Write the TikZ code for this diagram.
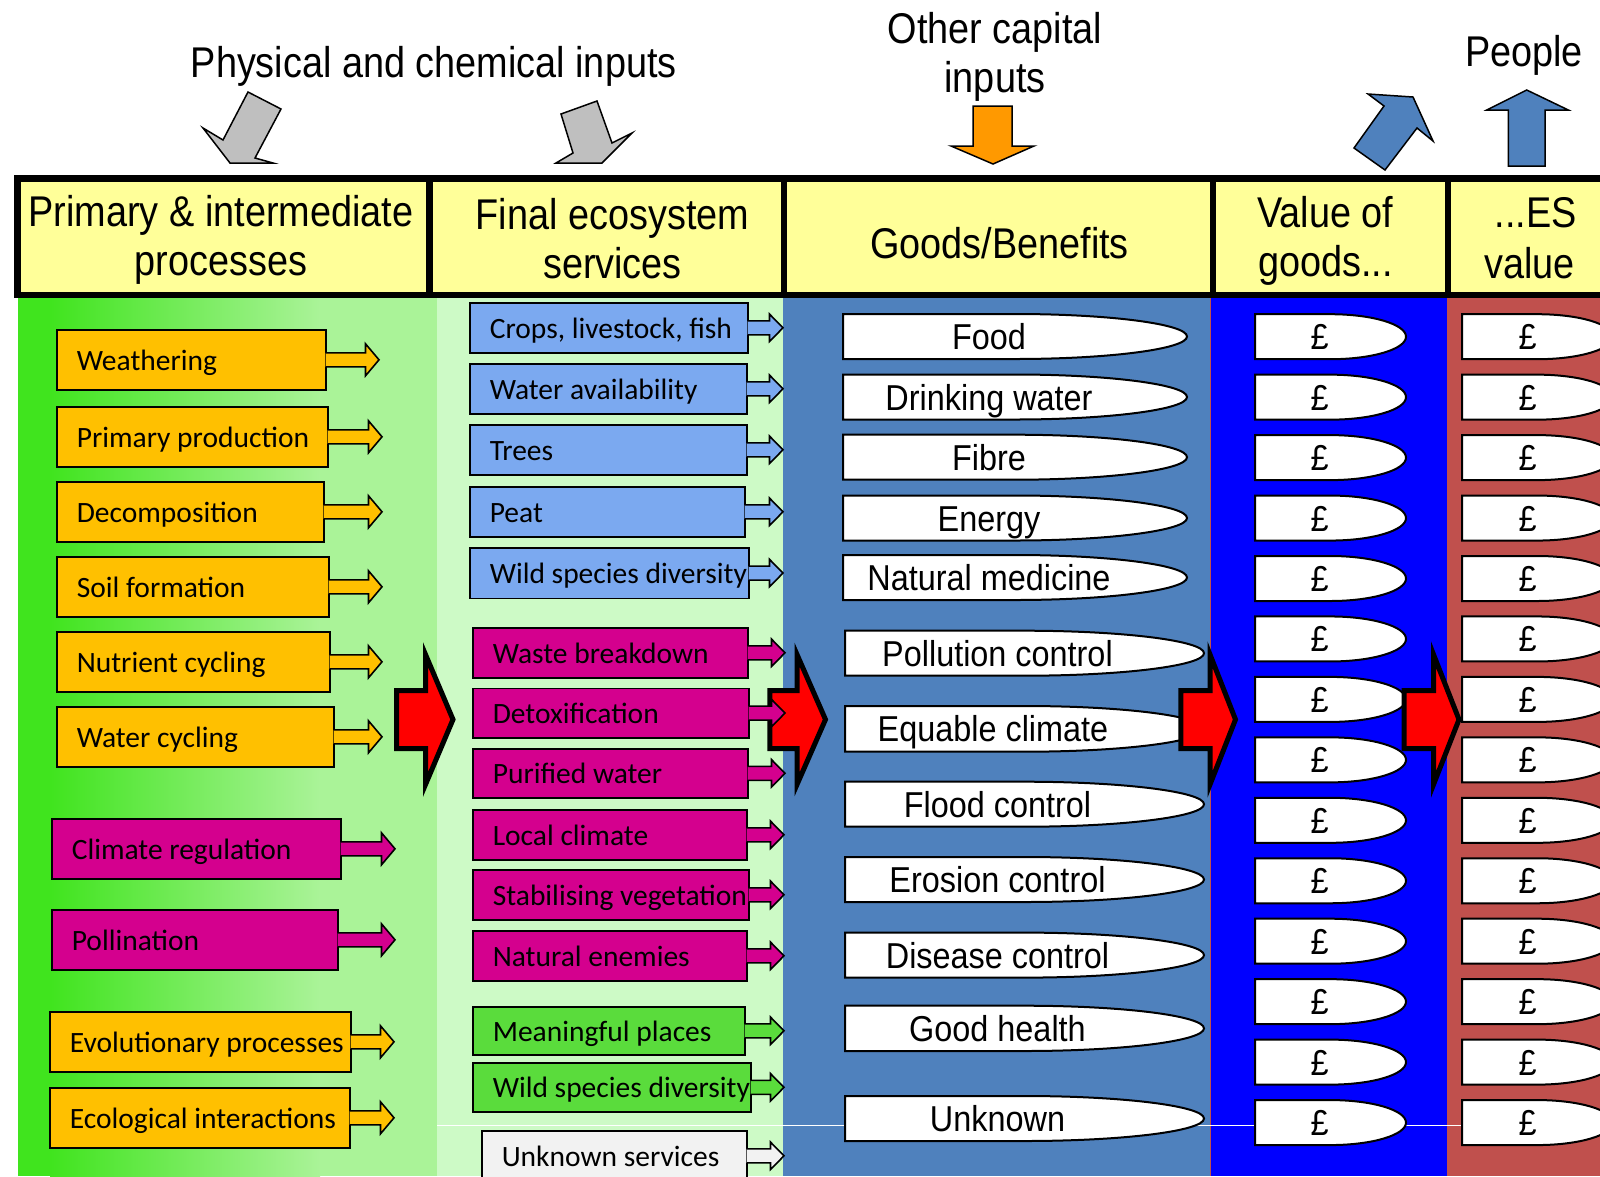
\documentclass[tikz,border=0pt]{standalone}
\usepackage{fontspec}
\usetikzlibrary{calc}
\newfontfamily\headfont[FakeStretch=0.88]{Liberation Sans}
\newfontfamily\goodsfont[FakeStretch=0.9]{Liberation Sans}
\newfontfamily\boxfont{Carlito}

\definecolor{hdryellow}{HTML}{FFFF99}
\definecolor{gbright}{HTML}{40E41E}
\definecolor{glight}{HTML}{AAF398}
\definecolor{gpale}{HTML}{CDFAC6}
\definecolor{steel}{HTML}{4F81BD}
\definecolor{pureblue}{HTML}{0000FF}
\definecolor{brick}{HTML}{C0504D}
\definecolor{amber}{HTML}{FFC000}
\definecolor{skyblue}{HTML}{7BA9F0}
\definecolor{magentabox}{HTML}{D4008E}
\definecolor{leaf}{HTML}{5ADC3C}
\definecolor{offwhite}{HTML}{F2F2F2}
\definecolor{inputgrey}{HTML}{BFBFBF}
\definecolor{capital}{HTML}{FF9900}

% process / service box with its block-arrow tail
% #1 name, #2 x1, #3 y1, #4 x2, #5 y2, #6 fill, #7 tip x, #8 wing half height, #9 label
\newcommand\procitem[9]{%
  \pgfmathsetmacro\pbw{(#4)-(#2)}%
  \pgfmathsetmacro\pbh{(#5)-(#3)}%
  \pgfmathsetmacro\ptw{(#4)-(#2)-40}%
  \node[procbox, fill=#6, minimum width=\pbw pt, minimum height=\pbh pt] (#1) at (#2,#3) {\makebox[\ptw pt][l]{#9}};
  \draw[tail, fill=#6] let \p1=(#1.east) in
    (\x1-1pt,\y1+7pt) -- (#7pt-13.5pt,\y1+7pt) -- (#7pt-13.5pt,\y1+#8pt) -- (#7pt,\y1)
    -- (#7pt-13.5pt,\y1-#8pt) -- (#7pt-13.5pt,\y1-7pt) -- (\x1-1pt,\y1-7pt);
}

% flat-left, rounded-right benefit shape with its label
% #1 name, #2 x1, #3 y1, #4 x2, #5 y2, #6 label x, #7 label
\newcommand\gooditem[7]{%
  \pgfmathsetmacro\grx{((#4)-(#2))/2}%
  \pgfmathsetmacro\gry{((#5)-(#3))/2}%
  \pgfmathsetmacro\gmx{((#2)+(#4))/2}%
  \pgfmathsetmacro\gty{((#3)+(#5))/2+13}%
  \draw[goodshape] (#2,#5) -- (#2,#3) -- (\gmx,#3)
    arc[start angle=90, end angle=-90, x radius=\grx pt, y radius=\gry pt] -- cycle;
  \node[goodtext] (#1) at (#6,\gty) {#7};
}

% thick red flow arrow between columns
\newcommand\flowarrow[3]{%
  \draw[bigflow] (#1,690.5) -- (#2,690.5) -- (#2,654.5) -- (#3,719.5)
    -- (#2,784.5) -- (#2,748.5) -- (#1,748.5) -- cycle;
}

\begin{document}
\begin{tikzpicture}[x=1pt, y=-1pt,
  hdr/.style={font=\headfont\fontsize{43}{46}\selectfont, anchor=base, inner sep=0pt},
  procbox/.style={draw, line width=1.6pt, anchor=north west, inner xsep=20pt, inner ysep=0pt,
    text height=21pt, text depth=0pt, font=\boxfont\fontsize{29.5}{32}\selectfont},
  tail/.style={draw, line width=1.6pt, line join=miter},
  goodshape/.style={draw, fill=white, line width=2pt},
  goodtext/.style={font=\goodsfont\fontsize{36}{38}\selectfont, anchor=base, inner sep=0pt},
  bigflow/.style={draw, fill=red, line width=5pt, line join=miter},
  blockarrow/.style={draw, line width=1.5pt, line join=miter},
  hframe/.style={draw, line width=6.5pt, line join=miter}]

\useasboundingbox (0,0) rectangle (1600,1176);
\clip (0,0) rectangle (1600,1176);
\fill[white] (0,0) rectangle (1600,1176);

% column backgrounds
\fill[glight] (18.4,298) rectangle (437,1176);
\fill[gbright] (18.4,298) rectangle (50,1176);
\shade[left color=gbright, right color=glight] (50,298) rectangle (320,1176);
\fill[gpale] (437,298) rectangle (783,1176);
\fill[steel] (783,298) rectangle (1210,1176);
\fill[pureblue] (1210,298) rectangle (1447,1176);
\fill[brick] (1447,298) rectangle (1600,1176);
\draw[brick, line width=1.2pt] (1210.6,298) -- (1210.6,1176);
\draw[white, line width=1pt] (437,1125) -- (1465,1125);

% header band
\fill[hdryellow] (17.4,178.5) rectangle (1600,295);
\draw[hframe] (17.4,178.5) rectangle (1610,295);
\foreach \hx in {429.6,784,1213,1448}
  \draw[hframe] (\hx,178.5) -- (\hx,295);

\node[hdr] (h1a) at (221,226) {Primary \& intermediate};
\node[hdr] (h1b) at (221,275) {processes};
\node[hdr] (h2a) at (612.5,229.3) {Final ecosystem};
\node[hdr] (h2b) at (612.5,278) {services};
\node[hdr] (h3)  at (999.5,258.3) {Goods/Benefits};
\node[hdr] (h4a) at (1325.5,227.7) {Value of};
\node[hdr] (h4b) at (1325.5,276.7) {goods...};
\node[hdr] (h5a) at (1535.7,227.7) {...ES};
\node[hdr] (h5b) at (1529.6,278.3) {value};

% inputs and outputs above the header
\node[hdr] (t1)  at (433.7,77.3) {Physical and chemical inputs};
\node[hdr] (t2a) at (995,43.5) {Other capital};
\node[hdr] (t2b) at (995,92.5) {inputs};
\node[hdr] (t3)  at (1524,66) {People};

\draw[blockarrow, fill=inputgrey] (248,92) -- (281,109) -- (255,158) -- (273,163)
  -- (230,163) -- (203,128) -- (223,140) -- cycle;
\draw[blockarrow, fill=inputgrey] (561,114) -- (597,101) -- (612,143) -- (632,133)
  -- (602,163) -- (556,163) -- (573,153) -- cycle;
\draw[blockarrow, fill=capital] (973,106) -- (1012,106) -- (1012,146) -- (1034,146)
  -- (993,164) -- (951,146) -- (973,146) -- cycle;
\draw[blockarrow, fill=steel] (1368,94) -- (1413,97) -- (1433,141) -- (1417,128)
  -- (1385,170) -- (1354,148) -- (1384,106) -- cycle;
\draw[blockarrow, fill=steel] (1526.7,90) -- (1568.3,110) -- (1545,110) -- (1545,166)
  -- (1508.3,166) -- (1508.3,110) -- (1486.7,110) -- cycle;

% goods / benefits
\gooditem{g1}{843}{314}{1187}{359}{989}{Food}
\gooditem{g2}{843}{374.5}{1187}{419.5}{989}{Drinking water}
\gooditem{g3}{843}{434.7}{1187}{479.7}{989}{Fibre}
\gooditem{g4}{843}{495.5}{1187}{540.5}{989}{Energy}
\gooditem{g5}{843}{555}{1187}{600}{989}{Natural medicine}
\gooditem{g6}{845}{630.7}{1204}{675.7}{997.5}{Pollution control}
\gooditem{g7}{845}{706}{1204}{751.7}{993}{Equable climate}
\gooditem{g8}{845}{781.7}{1204}{826.7}{997.5}{Flood control}
\gooditem{g9}{845}{857}{1204}{902}{997.5}{Erosion control}
\gooditem{g10}{845}{932.6}{1204}{977.6}{997.5}{Disease control}
\gooditem{g11}{845}{1005.7}{1204}{1051}{997.5}{Good health}
\gooditem{g12}{845}{1096}{1204}{1141}{997.5}{Unknown}

% values
\foreach \i in {0,...,13} {
  \pgfmathsetmacro\pc{336.7+60.45*\i}
  \gooditem{v\i}{1255}{\pc-22.5}{1406}{\pc+22.5}{1319.5}{£}
  \gooditem{e\i}{1462}{\pc-22.5}{1613}{\pc+22.5}{1527.5}{£}
}

\flowarrow{1180.8}{1210}{1235.5}
\flowarrow{1404.2}{1433.5}{1459}

% primary and intermediate processes
\procitem{p1}{56}{329}{325}{389}{amber}{379}{16}{Weathering}
\procitem{p2}{56}{406}{327}{466}{amber}{382}{16}{Primary production}
\procitem{p3}{56}{481}{323}{541}{amber}{382}{16}{Decomposition}
\procitem{p4}{56}{556}{328}{616}{amber}{382}{16}{Soil formation}
\procitem{p5}{56}{631}{329}{691}{amber}{382}{16}{Nutrient cycling}
\procitem{p6}{56}{706}{333}{766}{amber}{382}{16}{Water cycling}
\procitem{p7}{51}{818}{340}{878}{magentabox}{395}{16}{Climate regulation}
\procitem{p8}{51}{909}{337}{969}{magentabox}{395}{16}{Pollination}
\procitem{p9}{49}{1011}{350}{1071}{amber}{394}{16}{Evolutionary processes}
\procitem{p10}{49}{1087}{349}{1147}{amber}{394}{16}{Ecological interactions}

\flowarrow{396.5}{425.5}{453}
\flowarrow{769.8}{797}{825.5}

% final ecosystem services
\procitem{s1}{469}{302}{747}{352}{skyblue}{783}{13.7}{Crops, livestock, fish}
\procitem{s2}{469}{363}{746}{413}{skyblue}{783}{13.7}{Water availability}
\procitem{s3}{469}{424}{746}{474}{skyblue}{783}{13.7}{Trees}
\procitem{s4}{469}{486}{744}{536}{skyblue}{783}{13.7}{Peat}
\procitem{s5}{469}{547}{748}{597.5}{skyblue}{783}{13.7}{Wild species diversity}
\procitem{s6}{472}{627}{747}{677}{magentabox}{785}{13.7}{Waste breakdown}
\procitem{s7}{472}{687.5}{748}{737}{magentabox}{785}{13.7}{Detoxification}
\procitem{s8}{472}{748}{747}{797}{magentabox}{785}{13.7}{Purified water}
\procitem{s9}{472}{809}{746}{859}{magentabox}{784}{13.7}{Local climate}
\procitem{s10}{472}{869}{748}{919}{magentabox}{784}{13.7}{Stabilising vegetation}
\procitem{s11}{472}{930}{746}{980}{magentabox}{784}{13.7}{Natural enemies}
\procitem{s12}{472}{1006}{744}{1054}{leaf}{784}{13.7}{Meaningful places}
\procitem{s13}{472}{1062}{750}{1111}{leaf}{784}{13.7}{Wild species diversity}
\procitem{s14}{481}{1130}{746}{1180}{offwhite}{784}{13.7}{Unknown services}

\end{tikzpicture}
\end{document}
